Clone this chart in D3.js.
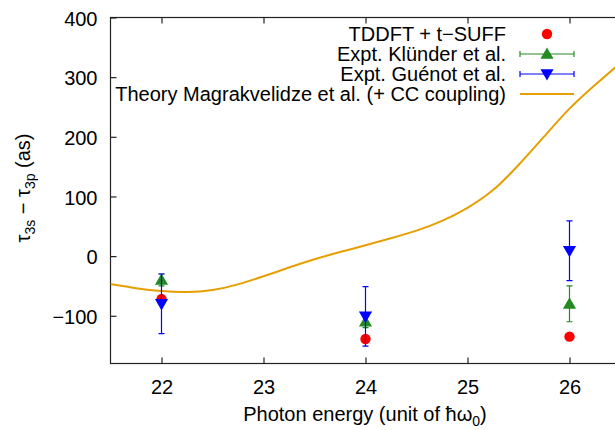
<!DOCTYPE html>
<html><head><meta charset="utf-8">
<script src="https://cdn.jsdelivr.net/npm/d3@7"></script>
<style>body{margin:0;background:#fff}svg{display:block}text{font-family:"Liberation Sans",Arial,sans-serif;fill:#000}</style>
</head><body><svg id="c" width="615" height="430"></svg>
<script>
const xTicks = [22, 23, 24, 25, 26];
const yTicks = [-100, 0, 100, 200, 300, 400];
const tddftE = [22, 24, 26];
const tddftV = [-72, -139, -135];
const klunderE = [22, 24, 26];
const klunderV = [-40, -110, -80];
const klunderErr = [10, 10, 30];
const guenotE = [22, 24, 26];
const guenotV = [-80, -101, 9];
const guenotErr = [50, 50, 50];
const theoryE = [21.5, 21.75, 22.0, 22.25, 22.5, 22.75, 23.0, 23.25, 23.5, 23.75, 24.0, 24.25, 24.5, 24.75, 25.0, 25.25, 25.5, 25.75, 26.0, 26.25, 26.5];
const theoryV = [-47, -54, -59, -61, -58, -48, -34, -19, -5, 7, 18, 30, 42, 58, 80, 108, 152, 200, 249, 287, 324];
const legendLabels = ["TDDFT + t\u2212SUFF", "Expt. Kl\u00fcnder et al.", "Expt. Gu\u00e9not et al.", "Theory Magrakvelidze et al. (+ CC coupling)"];
const colors = {red: "#ff0000", green: "#228b22", blue: "#0000ff", orange: "#e69f00"};

const svg = d3.select("#c");
const L = 110.5, R = 620.5, T = 17.5, B = 363.5;
const x = d3.scaleLinear().domain([21.5, 26.5]).range([L, R]);
const y = d3.scaleLinear().domain([-180, 400]).range([B, T]);
const fs = 20;
const font = "Liberation Sans, Arial, sans-serif";

// frame
svg.append("rect").attr("x", L).attr("y", T).attr("width", R - L).attr("height", B - T)
  .attr("fill", "none").attr("stroke", "#222").attr("stroke-width", 1.2);

// axes (ticks inward)
const axB = d3.axisBottom(x).tickValues(xTicks).tickSize(-6).tickPadding(0).tickFormat(d3.format("d"));
const gB = svg.append("g").attr("transform", `translate(0,${B})`).call(axB);
const axT = d3.axisTop(x).tickValues(xTicks).tickSize(-6).tickFormat("");
const gT = svg.append("g").attr("transform", `translate(0,${T})`).call(axT);
const axL = d3.axisLeft(y).tickValues(yTicks).tickSize(-6).tickPadding(13).tickFormat(d => d < 0 ? "\u2212" + Math.abs(d) : d);
const gL = svg.append("g").attr("transform", `translate(${L},0)`).call(axL);
[gB, gT, gL].forEach(g => {
  g.select(".domain").remove();
  g.selectAll(".tick line").attr("stroke", "#222").attr("stroke-width", 1.2);
  g.selectAll("text").attr("font-size", fs).attr("font-family", font).attr("fill", "#000");
});
gB.selectAll("text").attr("y", 30).attr("dy", null);
gL.selectAll("text").attr("dy", "0.38em");

// axis titles
svg.append("text").attr("x", 365).attr("y", 421).attr("text-anchor", "middle").attr("font-size", fs)
  .html('Photon energy (unit of \u0127\u03c9<tspan font-size="14" dy="5">0</tspan><tspan dy="-5">)</tspan>');
svg.append("text").attr("transform", "translate(30,188) rotate(-90)").attr("text-anchor", "middle").attr("font-size", fs)
  .html('\u03c4<tspan font-size="14" dy="5">3s</tspan><tspan dy="-5"> \u2212 \u03c4</tspan><tspan font-size="14" dy="5">3p</tspan><tspan dy="-5"> (as)</tspan>');

const plot = svg.append("g");
plot.append("clipPath").attr("id", "clip").append("rect").attr("x", L).attr("y", T).attr("width", R - L).attr("height", B - T);
const pg = plot.append("g").attr("clip-path", "url(#clip)");

// theory curve
const theory = theoryE.map((e, i) => [e, theoryV[i]]);
pg.append("path").datum(theory)
  .attr("d", d3.line().x(d => x(d[0])).y(d => y(d[1])).curve(d3.curveBasis))
  .attr("fill", "none").attr("stroke", colors.orange).attr("stroke-width", 2);

const tri = d3.symbol().type(d3.symbolTriangle).size(75);
function errSeries(E, V, Err, color, down) {
  E.forEach((e, i) => {
    const cx = x(e), y1 = y(V[i] + Err[i]), y2 = y(V[i] - Err[i]);
    pg.append("line").attr("x1", cx).attr("x2", cx).attr("y1", y1).attr("y2", y2).attr("stroke", color).attr("stroke-width", 1.2);
    [y1, y2].forEach(yy => pg.append("line").attr("x1", cx - 3).attr("x2", cx + 3).attr("y1", yy).attr("y2", yy).attr("stroke", color).attr("stroke-width", 1.2));
    pg.append("path").attr("d", tri).attr("fill", color)
      .attr("transform", `translate(${cx},${y(V[i]) + (down ? -1 : 1)}) rotate(${down ? 180 : 0})`);
  });
}
// red circles
tddftE.forEach((e, i) => pg.append("circle").attr("cx", x(e)).attr("cy", y(tddftV[i])).attr("r", 5.2).attr("fill", colors.red));
errSeries(klunderE, klunderV, klunderErr, colors.green, false);
errSeries(guenotE, guenotV, guenotErr, colors.blue, true);

// legend
const lg = svg.append("g");
const rowY = [34, 54, 74, 94];
const sx1 = 520, sx2 = 574, sxm = 547;
legendLabels.forEach((t, i) => {
  lg.append("text").attr("x", 506).attr("y", rowY[i] + 7).attr("text-anchor", "end").attr("font-size", fs).text(t);
});
lg.append("circle").attr("cx", sxm).attr("cy", rowY[0]).attr("r", 5.2).attr("fill", colors.red);
[[1, colors.green, false], [2, colors.blue, true]].forEach(([i, c, down]) => {
  const yy = rowY[i];
  lg.append("line").attr("x1", sx1).attr("x2", sx2).attr("y1", yy).attr("y2", yy).attr("stroke", c).attr("stroke-width", 1.2);
  [sx1, sx2].forEach(xx => lg.append("line").attr("x1", xx).attr("x2", xx).attr("y1", yy - 3).attr("y2", yy + 3).attr("stroke", c).attr("stroke-width", 1.2));
  lg.append("path").attr("d", tri).attr("fill", c).attr("transform", `translate(${sxm},${yy + (down ? -1 : 1)}) rotate(${down ? 180 : 0})`);
});
lg.append("line").attr("x1", sx1).attr("x2", sx2).attr("y1", rowY[3]).attr("y2", rowY[3]).attr("stroke", colors.orange).attr("stroke-width", 2);
</script></body></html>
